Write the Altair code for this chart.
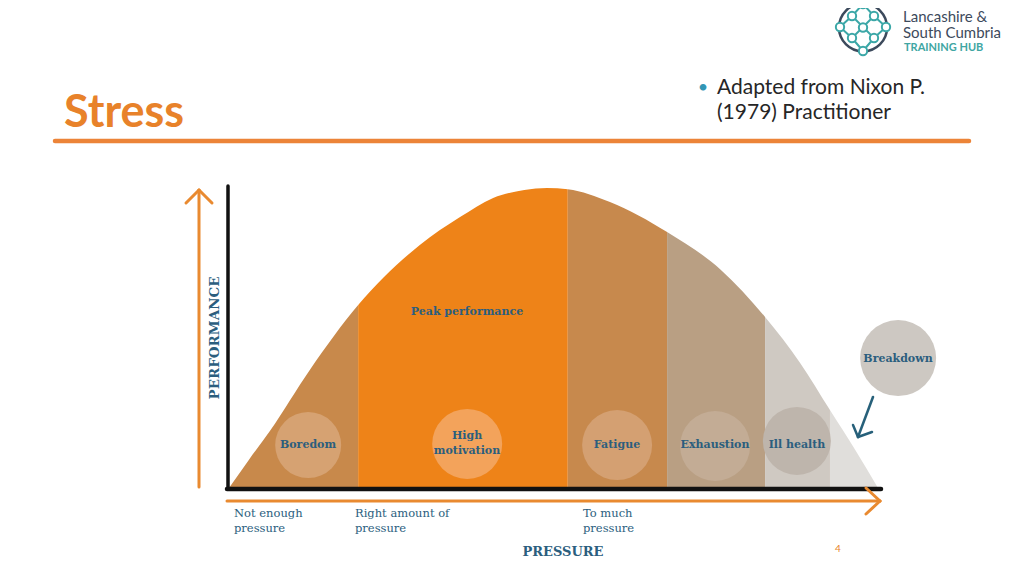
import altair as alt
import pandas as pd

# ---------------- data ----------------
pressure = [0, 3.0, 6.3, 12.5, 19.9, 29.4, 35.6, 40.7, 45.5, 49.0, 52.2, 58.7, 67.5, 75.8, 82.6, 88.0, 92.6, 96.5, 100]
performance = [0, 9.2, 19.0, 39.5, 61, 81, 90.3, 96.7, 99.3, 100, 99.6, 95.3, 85.3, 72.7, 57, 41.7, 26, 12.7, 0]

zone_names = ["Boredom", "Peak performance", "Fatigue", "Exhaustion", "Ill health", "Breakdown"]
zone_start = [0, 19.9, 52.2, 67.5, 82.6, 92.6]
zone_end = [19.9, 52.2, 67.5, 82.6, 92.6, 100]
zone_colors = ["#C8894B", "#EE8318", "#C7894D", "#B99F83", "#CFC9C2", "#E0DEDB"]

blob_labels = ["Boredom", "High\nmotivation", "Fatigue", "Exhaustion", "Ill health", "Breakdown"]
blob_pressure = [12.2, 36.7, 59.8, 74.9, 87.5, 103.1]
blob_performance = [14.3, 14.7, 14.3, 14.0, 15.7, 43.3]
blob_colors = ["#D6A272", "#F3A35B", "#D4A072", "#C3AC95", "#BEB5AC", "#CDC8C2"]

pressure_labels = ["Not enough\npressure", "Right amount of\npressure", "To much\npressure"]

# ---------------- layout (page pixels -> data units) ----------------
W, H = 1008, 560
X0, XS = 229.0, 6.49   # page x of pressure 0, pixels per unit
Y0, YS = 488.0, 3.0    # page y of performance 0, pixels per unit


def P(x):
    return (x - X0) / XS


def Q(y):
    return (Y0 - y) / YS


xs = alt.Scale(domain=[P(8), P(8 + W)], nice=False, zero=False)
ys = alt.Scale(domain=[Q(8 + H), Q(8)], nice=False, zero=False)


def XY():
    return dict(x=alt.X("p:Q", scale=xs, axis=None), y=alt.Y("q:Q", scale=ys, axis=None))


def pt(x, y, **kw):
    d = {"p": [P(x)], "q": [Q(y)]}
    d.update({k: [v] for k, v in kw.items()})
    return pd.DataFrame(d)


# zone bands, then a white mask above the curve so the curve is one smooth line
zone_df = pd.DataFrame({"zone": zone_names, "p": zone_start, "p2": zone_end,
                        "q": [0.0] * 6, "q2": [101.0] * 6})
zscale = alt.Scale(domain=zone_names, range=zone_colors)
bands = alt.Chart(zone_df).mark_rect(strokeWidth=0).encode(
    x=alt.X("p:Q", scale=xs, axis=None), x2="p2:Q",
    y=alt.Y("q:Q", scale=ys, axis=None), y2="q2:Q",
    color=alt.Color("zone:N", scale=zscale, legend=None),
)
curve_df = pd.DataFrame({"p": pressure, "q": performance, "top": [101.5] * len(pressure)})
mask = alt.Chart(curve_df).mark_area(interpolate="monotone", color="white", opacity=1).encode(
    x=alt.X("p:Q", scale=xs, axis=None),
    y=alt.Y("q:Q", scale=ys, axis=None, stack=None),
    y2="top:Q",
)

blob_sizes = [66, 70, 70, 70, 68, 76]
blob_layers = []
for lab, p, q, c, d in zip(blob_labels, blob_pressure, blob_performance, blob_colors, blob_sizes):
    df = pd.DataFrame({"p": [p], "q": [q]})
    blob_layers.append(alt.Chart(df).mark_circle(opacity=1, color=c, size=d * d).encode(**XY()))

TEAL = "#2B5E7E"
lab_df = pd.DataFrame({
    "t": blob_labels + ["Peak performance"],
    "p": [P(308), P(467), P(617), P(715), P(797), P(898), P(467)],
    "q": [Q(445), Q(436), Q(445), Q(445), Q(445), Q(359), Q(312)],
})
labels = alt.Chart(lab_df).mark_text(font="DejaVu Serif", fontWeight="bold", fontSize=11,
                                     color=TEAL, lineBreak="\n", lineHeight=15,
                                     baseline="middle").encode(text="t:N", **XY())

pl_df = pd.DataFrame({"t": pressure_labels, "p": [P(234), P(355), P(583)],
                      "q": [Q(514)] * 3})
plabels = alt.Chart(pl_df).mark_text(font="DejaVu Serif", fontSize=11.5, color=TEAL,
                                     align="left", baseline="middle", lineBreak="\n",
                                     lineHeight=15).encode(text="t:N", **XY())

x_title = alt.Chart(pt(563, 552, t="PRESSURE")).mark_text(
    font="DejaVu Serif", fontWeight="bold", fontSize=13, color=TEAL,
    baseline="middle").encode(text="t:N", **XY())
y_title = alt.Chart(pt(215, 338, t="PERFORMANCE")).mark_text(
    font="DejaVu Serif", fontWeight="bold", fontSize=13.5, color=TEAL, baseline="middle",
    angle=270).encode(text="t:N", **XY())

# line segments: axes, arrows, rule under title, logo
ORANGE = "#E98A30"
LT = "#3BA7A7"
segs = [
    (228, 186, 228, 489, "#111111", 3.5),
    (227, 489, 881, 489, "#111111", 4.5),
    (199, 190, 199, 487, ORANGE, 3),
    (199, 190, 186, 203, ORANGE, 3),
    (199, 190, 212, 203, ORANGE, 3),
    (227, 501, 880, 501, ORANGE, 3),
    (880, 501, 866, 488, ORANGE, 3),
    (880, 501, 866, 514, ORANGE, 3),
    (55, 141, 969, 141, "#EC8438", 4.5),
    (873, 397, 858, 437, "#27607A", 2.5),
    (858, 437, 853, 425, "#27607A", 2.5),
    (858, 437, 872, 432, "#27607A", 2.5),
    (863, 4, 852, 16, LT, 2), (852, 16, 840, 27, LT, 2),
    (840, 27, 852, 38, LT, 2), (852, 38, 863, 51, LT, 2),
    (863, 51, 874, 38, LT, 2), (874, 38, 886, 27, LT, 2),
    (886, 27, 874, 16, LT, 2), (874, 16, 863, 4, LT, 2),
    (852, 16, 874, 38, LT, 2), (874, 16, 852, 38, LT, 2),
]
seg_layers = []
for x1, y1, x2, y2, c, w in segs:
    df = pd.DataFrame({"p": [P(x1)], "q": [Q(y1)], "p2": [P(x2)], "q2": [Q(y2)]})
    seg_layers.append(alt.Chart(df).mark_rule(strokeCap="round", color=c, strokeWidth=w).encode(
        x2="p2:Q", y2="q2:Q", **XY()))

ring = alt.Chart(pt(863, 27.5)).mark_point(shape="circle", filled=False, size=48 * 48,
                                           color="#3C4A5C", strokeWidth=2.5,
                                           opacity=1).encode(**XY())
node_df = pd.DataFrame({"x": [863, 852, 840, 852, 863, 874, 886, 874, 863],
                        "y": [4, 16, 27, 38, 51, 38, 27, 16, 27.5]})
node_df["p"] = node_df["x"].map(P)
node_df["q"] = node_df["y"].map(Q)
nodes = alt.Chart(node_df).mark_point(shape="circle", filled=True, fill="white",
                                      stroke=LT, strokeWidth=2, size=70,
                                      opacity=1).encode(**XY())

logo_txt = alt.Chart(pt(903, 17, t="Lancashire &\nSouth Cumbria")).mark_text(
    font="Lato", fontSize=15, color="#3D4A5C", align="left", baseline="middle",
    lineBreak="\n", lineHeight=15.5).encode(text="t:N", **XY())
logo_hub = alt.Chart(pt(904, 47.5, t="TRAINING HUB")).mark_text(
    font="Lato", fontSize=11, fontWeight="bold", color="#40A6A3", align="left",
    baseline="middle").encode(text="t:N", **XY())

title = alt.Chart(pt(64, 127, t="Stress")).mark_text(
    font="Lato", fontWeight="bold", fontSize=45, color="#E8822A", align="left",
    baseline="alphabetic").encode(text="t:N", **XY())

bullet_df = pd.DataFrame({"t": ["Adapted from Nixon P.", "(1979) Practitioner"],
                          "p": [P(717), P(717)], "q": [Q(88), Q(113)]})
bullet_txt = alt.Chart(bullet_df).mark_text(font="Lato", fontSize=21, color="#262626",
                                            align="left", baseline="middle").encode(
    text="t:N", **XY())
bullet = alt.Chart(pt(703, 88, t="•")).mark_text(
    font="Lato", fontSize=18, color="#3296B4", baseline="middle").encode(text="t:N", **XY())
page_no = alt.Chart(pt(838, 549, t="4")).mark_text(
    font="Lato", fontSize=10, color="#E8822A", baseline="middle").encode(text="t:N", **XY())

chart = alt.layer(
    bands, mask, *blob_layers, labels, plabels, x_title, y_title, *seg_layers, ring, nodes,
    logo_txt, logo_hub, title, bullet_txt, bullet, page_no,
).properties(
    width=W, height=H, padding=0, autosize=alt.AutoSizeParams(type="none"),
    background="white",
).configure_view(stroke=None)

chart.save("out.html", embed_options={"renderer": "svg", "actions": False})
